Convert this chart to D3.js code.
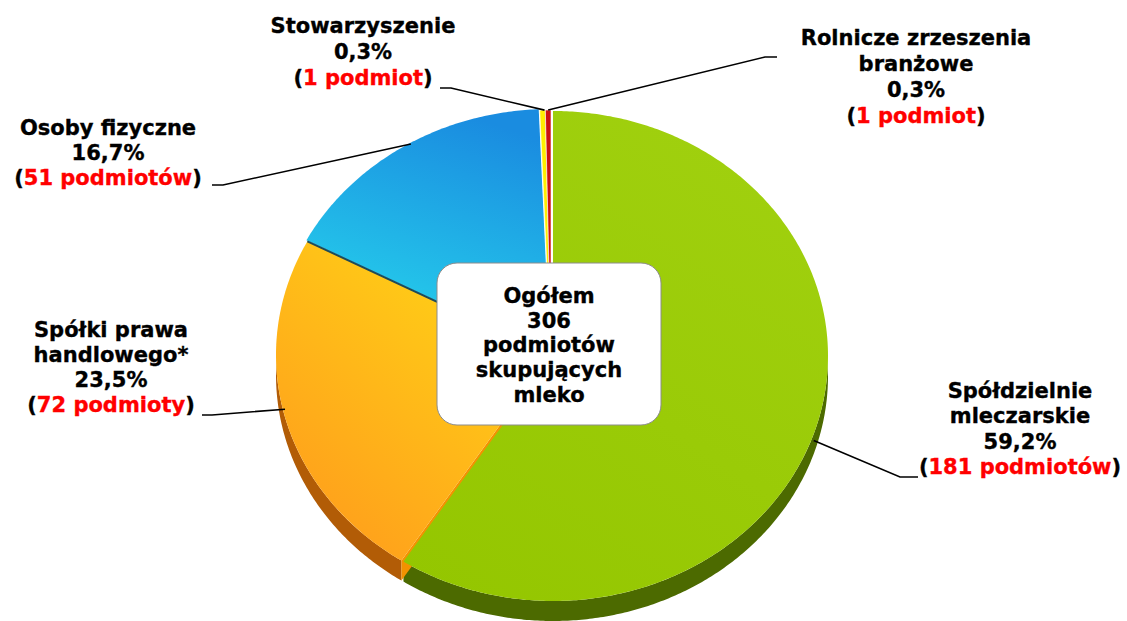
<!DOCTYPE html>
<html><head><meta charset="utf-8">
<script src="https://cdn.jsdelivr.net/npm/d3@7"></script>
<style>
html,body{margin:0;padding:0;background:#fff;}
text{font-family:"DejaVu Sans",Verdana,sans-serif;font-weight:bold;font-size:21px;stroke-width:0.35px;}
</style></head>
<body><svg id="chart" width="1127" height="621"></svg>
<script>
// ---- data ----
const categories = ["Spółdzielnie mleczarskie","Spółki prawa handlowego*","Osoby fizyczne","Stowarzyszenie","Rolnicze zrzeszenia branżowe"];
const counts = [181, 72, 51, 1, 1];
const percentLabels = ["59,2%","23,5%","16,7%","0,3%","0,3%"];
const countLabels = ["181 podmiotów","72 podmioty","51 podmiotów","1 podmiot","1 podmiot"];
const nameLines = [["Spółdzielnie","mleczarskie"],["Spółki prawa","handlowego*"],["Osoby fizyczne"],["Stowarzyszenie"],["Rolnicze zrzeszenia","branżowe"]];
const centerLines = ["Ogółem","306","podmiotów","skupujących","mleko"];

// ---- layout ----
const svg = d3.select("#chart");
const cx = 551, cy = 355, rx = 275, ry = 245, depth = 20;
const topColors = [["#a0d00e","#94c600"],["#ffd416","#ff9a1c"],["#1a8ce0","#24c6ea"],["#ffee00","#ffee00"],["#cc1010","#cc1010"]];
const sideColors = ["#4c6a00","#b25c06","#1a5a8a","#b0a000","#800000"];
const offsets = [[2,1],[0,0],[-1,-1],[0,0],[0,0]];

const pie = d3.pie().sort(null).value(d => d)(counts);
function pt(a, r=1, dy=0, o=[0,0]) { return [cx + o[0] + rx*r*Math.sin(a), cy + o[1] - ry*r*Math.cos(a) + dy]; }
function arcPts(a0, a1, dy, o) {
  const n = Math.max(2, Math.ceil((a1-a0)/0.01));
  return d3.range(n+1).map(i => pt(a0 + (a1-a0)*i/n, 1, dy, o));
}
const line = d3.line();

const defs = svg.append("defs");
const gradDefs = [
  {x1:cx+200,y1:cy-200,x2:cx-100,y2:cy+250},
  {x1:cx-20,y1:cy-60,x2:cx-250,y2:cy+200},
  {x1:cx-100,y1:cy-245,x2:cx-160,y2:cy-60},
  {x1:0,y1:0,x2:1,y2:1},{x1:0,y1:0,x2:1,y2:1}
];
topColors.forEach((c,i) => {
  const g = defs.append("linearGradient").attr("id","g"+i).attr("gradientUnits","userSpaceOnUse")
    .attr("x1",gradDefs[i].x1).attr("y1",gradDefs[i].y1).attr("x2",gradDefs[i].x2).attr("y2",gradDefs[i].y2);
  g.append("stop").attr("offset","0%").attr("stop-color",c[0]);
  g.append("stop").attr("offset","100%").attr("stop-color",c[1]);
});

// sides
const sideG = svg.append("g");
pie.forEach((p,i) => {
  const lo = Math.max(p.startAngle, Math.PI/2), hi = Math.min(p.endAngle, 3*Math.PI/2);
  if (lo >= hi) return;
  const o = offsets[i];
  const pts = arcPts(lo, hi, 0, o).concat(arcPts(lo, hi, depth, o).reverse());
  sideG.append("path").attr("d", line(pts)+"Z").attr("fill", sideColors[i]);
});
{
  const a = pie[1].startAngle;
  const p1 = pt(a), p2 = pt(a,1,depth);
  sideG.append("path").attr("d", line([[cx,cy],p1,p2,[cx,cy+depth]])+"Z").attr("fill","#f39200");
}

// top faces
const topG = svg.append("g");
[1,2,3,4,0].forEach(i => {
  const p = pie[i], o = offsets[i];
  const pts = [[cx+o[0],cy+o[1]]].concat(arcPts(p.startAngle, p.endAngle, 0, o));
  topG.append("path").attr("d", line(pts)+"Z").attr("fill","url(#g"+i+")")
    .attr("stroke", i>=3 ? "#fff" : "none").attr("stroke-width", 0.6);
});
{
  const a = pie[2].startAngle;
  topG.append("path").attr("d", line([[cx,cy],pt(a)])).attr("stroke","#1d4a5a").attr("stroke-width",2).attr("fill","none");
}

// center box
svg.append("rect").attr("x",437).attr("y",263).attr("width",224).attr("height",162).attr("rx",20)
  .attr("fill","#fff").attr("stroke","#8c8c8c").attr("stroke-width",1);
svg.append("g").selectAll("text").data(centerLines).join("text")
  .attr("x",549).attr("y",(d,i)=>303+i*24.7).attr("text-anchor","middle").attr("fill","#000").attr("stroke","#000").text(d=>d);

// labels
const labelLayout = [
  {x:1020, y:398, lh:25.3, lead:[[918,477],[900,477]], endAdj:[-3,15]},
  {x:111, y:337, lh:25, lead:[[202,415],[212,415]], endAdj:[0,-8]},
  {x:108, y:135, lh:25, lead:[[212,185],[223,185]], endAdj:[8,-3]},
  {x:363, y:33, lh:26, lead:[[440,88],[451,88]], endAdj:[2,0]},
  {x:916, y:45, lh:26, lead:[[777,57],[765,57]], endAdj:[0,0]}
];
const labG = svg.append("g");
pie.forEach((p,i) => {
  const L = labelLayout[i];
  const lines = nameLines[i].concat([percentLabels[i]]);
  lines.forEach((t,j) => {
    labG.append("text").attr("x",L.x).attr("y",L.y + j*L.lh).attr("text-anchor","middle").attr("fill","#000").attr("stroke","#000").text(t);
  });
  const t = labG.append("text").attr("x",L.x).attr("y",L.y + lines.length*L.lh).attr("text-anchor","middle");
  t.append("tspan").attr("fill","#000").attr("stroke","#000").text("(");
  t.append("tspan").attr("fill","#ff0000").attr("stroke","#ff0000").text(countLabels[i]);
  t.append("tspan").attr("fill","#000").attr("stroke","#000").text(")");
  const mid = (p.startAngle + p.endAngle)/2;
  const e = pt(mid, 1, 0, offsets[i]);
  const end = [e[0]+L.endAdj[0], e[1]+L.endAdj[1]];
  labG.append("path").attr("d", line(L.lead.concat([end]))).attr("fill","none").attr("stroke","#000").attr("stroke-width",1.6);
});
</script>
</body></html>
